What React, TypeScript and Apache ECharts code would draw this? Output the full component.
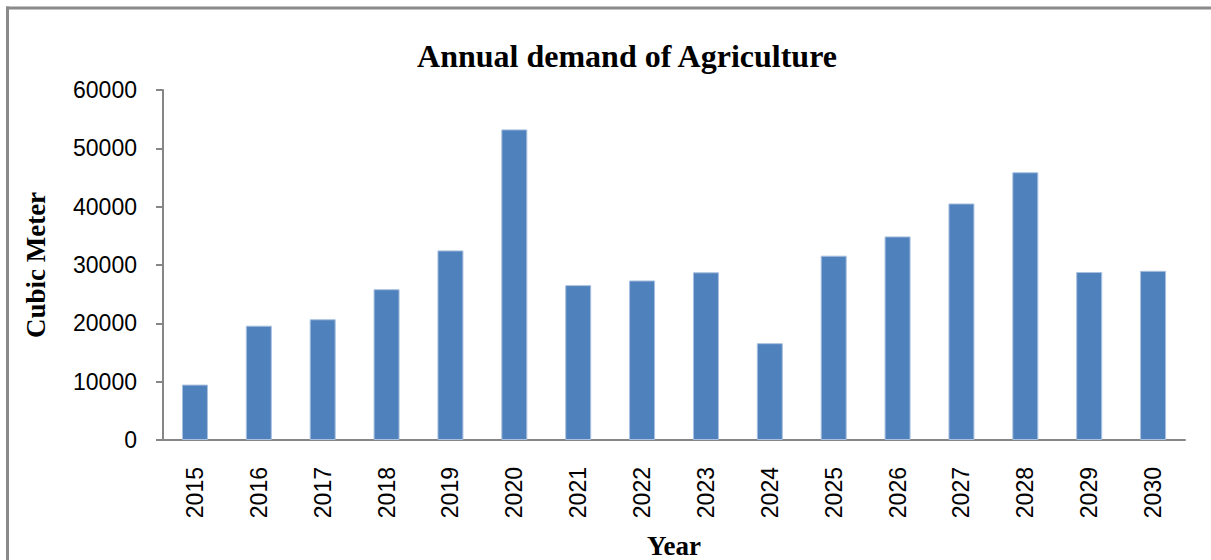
import React, { useEffect, useRef } from "react";
import * as echarts from "echarts";

const years = ["2015", "2016", "2017", "2018", "2019", "2020", "2021", "2022", "2023", "2024", "2025", "2026", "2027", "2028", "2029", "2030"];
const demand = [9500, 19600, 20700, 25850, 32500, 53250, 26550, 27350, 28750, 16600, 31600, 34900, 40550, 45900, 28800, 29000];
const yTicks = { min: 0, max: 60000, interval: 10000 };

const serif = "'Liberation Serif', 'Times New Roman', serif";
const sans = "'Liberation Sans', Arial, sans-serif";

export default function App() {
  const ref = useRef<HTMLDivElement>(null);
  useEffect(() => {
    if (!ref.current) return;
    const chart = echarts.init(ref.current, undefined, { renderer: "svg" });
    chart.setOption({
      animation: false,
      backgroundColor: "#ffffff",
      title: {
        text: "Annual demand of Agriculture",
        left: 622,
        textAlign: "center",
        top: 35,
        textStyle: { fontFamily: serif, fontWeight: "bold", fontSize: 32, color: "#000" },
      },
      graphic: [
        { type: "line", shape: { x1: 6, y1: 8, x2: 1211, y2: 8 }, style: { stroke: "#8a8a8a", lineWidth: 3 } },
        { type: "line", shape: { x1: 7.5, y1: 6.5, x2: 7.5, y2: 560 }, style: { stroke: "#8a8a8a", lineWidth: 3 } },
      ],
      grid: { left: 163, right: 26, top: 90, bottom: 120, containLabel: false, outerBoundsMode: "none" },
      xAxis: {
        type: "category",
        data: years,
        name: "Year",
        nameLocation: "middle",
        nameGap: 92,
        nameTextStyle: { fontFamily: serif, fontWeight: "bold", fontSize: 27, color: "#000" },
        axisLine: { lineStyle: { color: "#868686", width: 2 } },
        axisTick: { show: false },
        axisLabel: { rotate: 90, margin: 27, fontFamily: sans, fontSize: 23, color: "#000" },
      },
      yAxis: {
        type: "value",
        min: yTicks.min,
        max: yTicks.max,
        interval: yTicks.interval,
        name: "Cubic Meter",
        nameLocation: "middle",
        nameGap: 114,
        nameRotate: 90,
        nameTextStyle: { fontFamily: serif, fontWeight: "bold", fontSize: 27, color: "#000" },
        axisLine: { show: true, lineStyle: { color: "#868686", width: 2 } },
        axisTick: { show: true, inside: false, length: 7, lineStyle: { color: "#868686", width: 2 } },
        axisLabel: { margin: 26, fontFamily: sans, fontSize: 23, color: "#000", formatter: (v: number) => String(v) },
        splitLine: { show: false },
      },
      series: [
        {
          type: "bar",
          data: demand,
          barWidth: 26,
          itemStyle: { color: "#4F81BD", borderColor: "#a9c0df", borderWidth: 1 },
        },
      ],
    });
    return () => chart.dispose();
  }, []);
  return <div ref={ref} style={{ position: "fixed", left: 0, top: 0, width: 1211, height: 560 }} />;
}
